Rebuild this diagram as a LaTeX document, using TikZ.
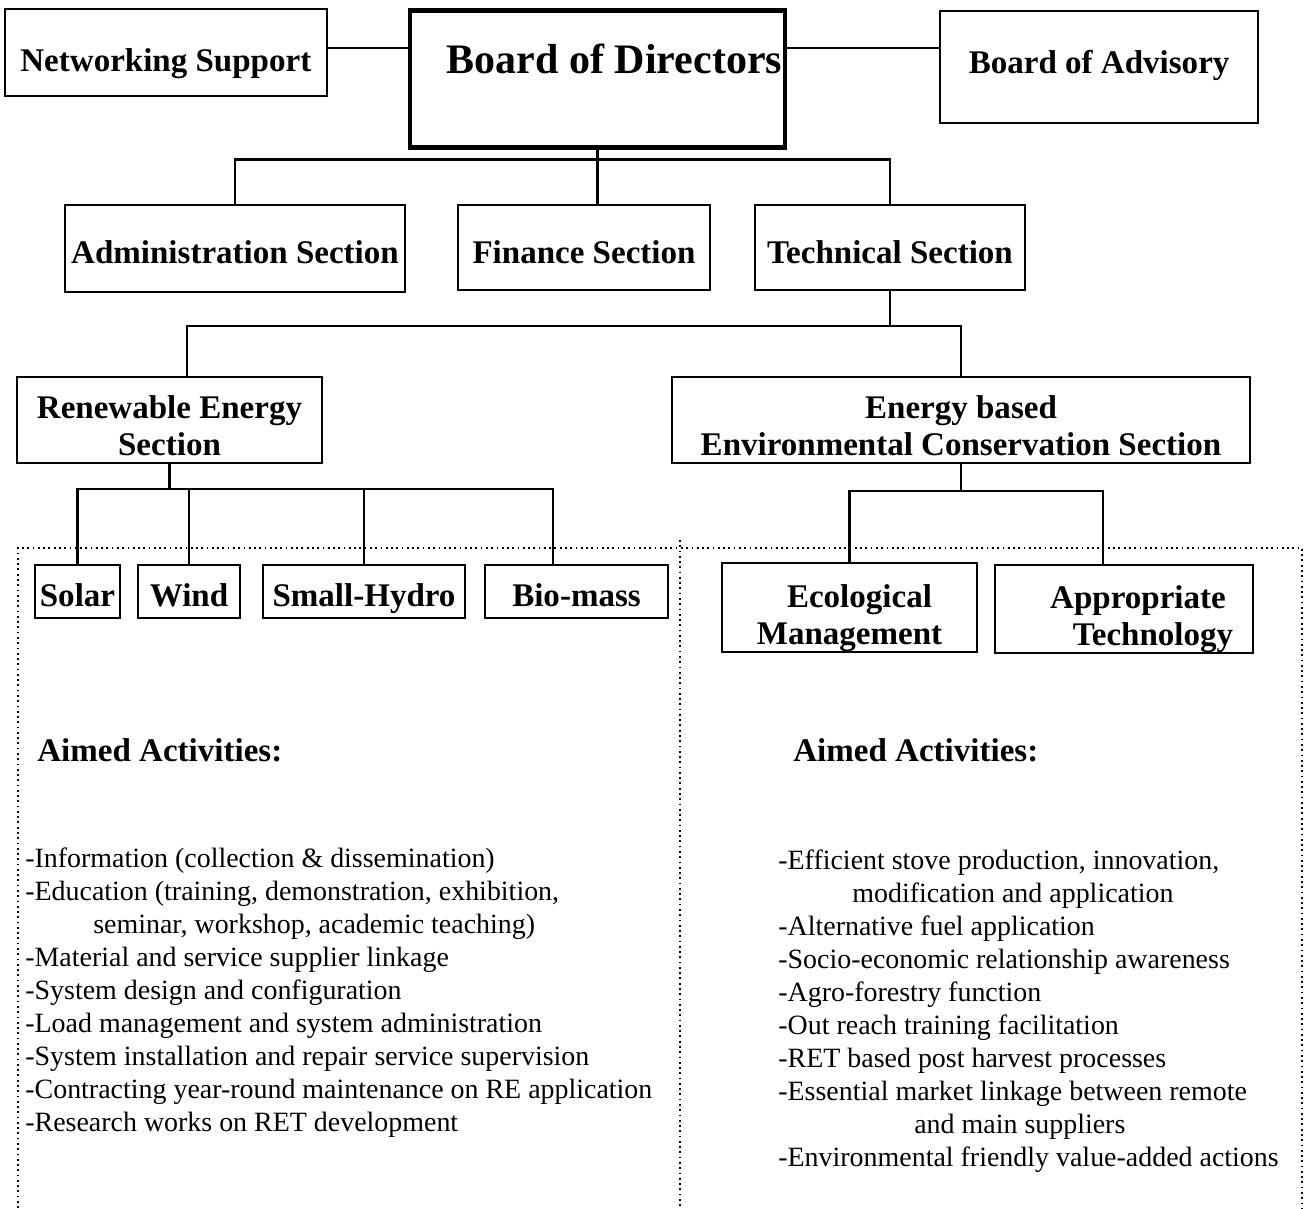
\documentclass[tikz,border=0pt]{standalone}
\usepackage{fontspec}
\setmainfont{Liberation Serif}
\usetikzlibrary{positioning}

\begin{document}
\begin{tikzpicture}[
x=0.02cm, y=-0.02cm,
box/.style={draw, line width=1.1pt, inner sep=0pt, align=center,
  font=\bfseries\fontsize{18.8}{21}\selectfont},
unit/.style={box, text height=0.82cm, text depth=0.24cm},
link/.style={line width=1.3pt},
frame/.style={line width=1pt, dotted},
list/.style={anchor=north west, align=left, inner sep=0pt,
  font=\fontsize{15.9}{18.8}\selectfont}
]
\useasboundingbox (0,0) rectangle (1306,1208);

% top row
\node[box, line width=2.6pt, minimum width=7.5cm, text height=1.26cm, text depth=1.48cm,
  font=\bfseries\fontsize{23.9}{26}\selectfont, anchor=north] (board) at (597.5,8) {\hspace*{0.68cm}Board of Directors};
\node[box, minimum width=6.44cm, text height=1.26cm, text depth=0.48cm,
  below left=0cm and 1.6cm of board.north west] (net) {Networking Support};
\node[box, minimum width=6.36cm, text height=1.26cm, text depth=0.98cm,
  below right=0.04cm and 3.04cm of board.north east] (adv) {Board of Advisory};

% sections
\node[box, minimum width=6.8cm, text height=1.16cm, text depth=0.58cm] (admin) at (235,248.5) {Administration Section};
\node[box, minimum width=5.04cm, text height=1.16cm, text depth=0.54cm] (fin) at (584,247.5) {Finance Section};
\node[box, minimum width=5.4cm, text height=1.16cm, text depth=0.54cm] (tech) at (890,247.5) {Technical Section};

\node[box, minimum width=6.1cm, minimum height=1.72cm] (renew) at (169.5,420) {\rule{0pt}{19.5pt}Renewable Energy\\Section};
\node[box, minimum width=11.56cm, minimum height=1.72cm] (env) at (961,420) {\rule{0pt}{19.5pt}Energy based\\Environmental Conservation Section};

% units
\node[unit, minimum width=1.7cm] (solar) at (77.5,591.5) {Solar};
\node[unit, minimum width=2.04cm] (wind) at (189,591.5) {Wind};
\node[unit, minimum width=4.04cm] (hydro) at (364,591.5) {Small-Hydro};
\node[unit, minimum width=3.66cm] (bio) at (576.5,591.5) {Bio-mass};
\node[box, minimum width=5.1cm, minimum height=1.7cm] (eco) at (849.5,607.5) {\rule{0pt}{25pt}\hspace*{0.4cm}Ecological\\Management};
\node[box, minimum width=5.16cm, minimum height=1.68cm] (appr) at (1124,609) {\rule{0pt}{25pt}\hspace*{0.56cm}Appropriate\\\hspace*{1.16cm}Technology};

% links
\draw[link] (net.east |- 0,48) -- (board.west |- 0,48);
\draw[link] (board.east |- 0,48) -- (adv.west |- 0,48);

\coordinate[below=0.2cm of board.south] (bus1);
\draw[link] (board.south) -- (board.south |- fin.north);
\draw[link] (admin.north) |- (bus1) -| (tech.north);

\coordinate[below=0.7cm of tech.south] (bus2);
\draw[link] (tech.south) -- (bus2);
\draw[link] ([xshift=0.35cm]renew.north) |- (bus2) -| (env.north);

\coordinate[below=0.5cm of renew.south] (bus3);
\draw[link] (renew.south) -- (bus3);
\draw[link] (solar.north) |- (bus3) -| ([xshift=-0.47cm]bio.north);
\draw[link] (wind.north) -- (wind.north |- bus3);
\draw[link] (hydro.north) -- (hydro.north |- bus3);

\coordinate[below=0.54cm of env.south] (bus4);
\draw[link] (env.south) -- (bus4);
\draw[link] (eco.north) |- (bus4) -| ([xshift=-0.42cm]appr.north);

% activity areas
\draw[frame] (18,1208) -- (18,548) -- (1302,548) -- (1302,1208);
\draw[frame] (680,540) -- (680,1208);

\node[anchor=west, inner sep=0pt, font=\bfseries\fontsize{18.8}{21}\selectfont] (aimL) at (37,750) {Aimed Activities:};
\node[anchor=west, inner sep=0pt, font=\bfseries\fontsize{18.8}{21}\selectfont] (aimR) at (793,750) {Aimed Activities:};

\node[list] (actL) at (25,847) {-Information (collection \& dissemination)\\
-Education (training, demonstration, exhibition,\\
\hspace*{1.36cm}seminar, workshop, academic teaching)\\
-Material and service supplier linkage\\
-System design and configuration\\
-Load management and system administration\\
-System installation and repair service supervision\\
-Contracting year-round maintenance on RE application\\
-Research works on RET development};

\node[list] (actR) at (778,849) {-Efficient stove production, innovation,\\
\hspace*{1.48cm}modification and application\\
-Alternative fuel application\\
-Socio-economic relationship awareness\\
-Agro-forestry function\\
-Out reach training facilitation\\
-RET based post harvest processes\\
-Essential market linkage between remote\\
\hspace*{2.72cm}and main suppliers\\
-Environmental friendly value-added actions};

\end{tikzpicture}
\end{document}
